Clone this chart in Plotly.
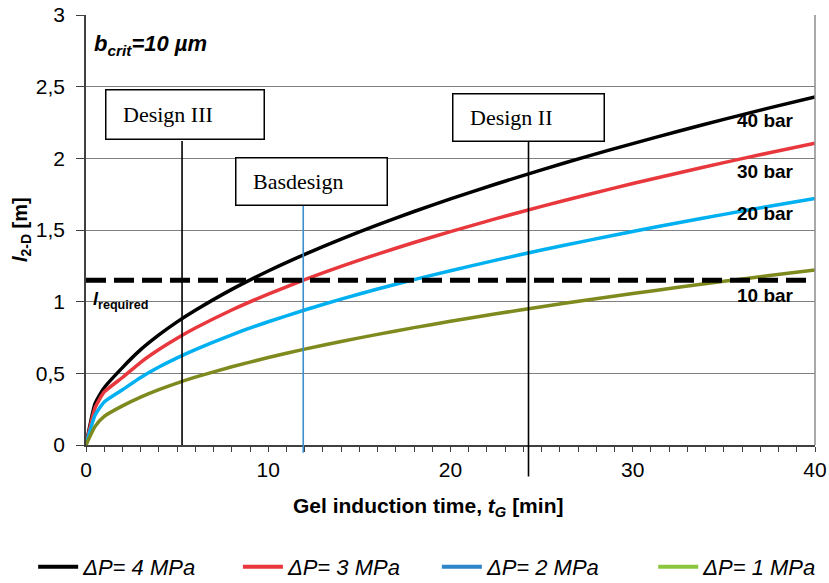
import plotly.graph_objects as go

# Gel induction time [min]
t_min = [0, 0.5, 1, 2, 3, 4, 5, 6, 8, 10, 12, 14, 16, 18, 20, 22.5, 25, 27.5, 30, 32.5, 35, 37.5, 40]

# Penetration length l_2-D [m] for each pressure difference
l_4mpa = [0, 0.29, 0.40, 0.54, 0.665, 0.768, 0.859, 0.940, 1.086, 1.214, 1.330, 1.437, 1.536, 1.629,
          1.717, 1.821, 1.920, 2.014, 2.103, 2.189, 2.272, 2.352, 2.429]
l_3mpa = [0, 0.26, 0.37, 0.471, 0.577, 0.666, 0.745, 0.816, 0.942, 1.053, 1.154, 1.246, 1.332, 1.413,
          1.489, 1.579, 1.665, 1.746, 1.824, 1.898, 1.970, 2.039, 2.106]
l_2mpa = [0, 0.21, 0.30, 0.385, 0.471, 0.544, 0.608, 0.666, 0.769, 0.860, 0.942, 1.018, 1.088, 1.154,
          1.216, 1.290, 1.360, 1.426, 1.490, 1.551, 1.609, 1.666, 1.720]
l_1mpa = [0, 0.13, 0.20, 0.273, 0.334, 0.386, 0.432, 0.473, 0.546, 0.610, 0.669, 0.722, 0.772, 0.819,
          0.863, 0.915, 0.965, 1.012, 1.057, 1.100, 1.142, 1.182, 1.221]

series_names = ["ΔP= 4 MPa", "ΔP= 3 MPa", "ΔP= 2 MPa", "ΔP= 1 MPa"]
series_values = [l_4mpa, l_3mpa, l_2mpa, l_1mpa]
line_colors = ["#000000", "#e8383d", "#00b0f0", "#7f8a1e"]
legend_colors = ["#000000", "#e8383d", "#2e86c8", "#8cc63f"]
bar_labels = ["40 bar", "30 bar", "20 bar", "10 bar"]
bar_label_y = [2.266, 1.91, 1.617, 1.045]

l_required = 1.15

design_names = ["Design III", "Basdesign", "Design II"]
design_t = [5.27, 11.92, 24.28]

y_ticks = [0, 0.5, 1, 1.5, 2, 2.5, 3]
y_ticktext = ["0", "0,5", "1", "1,5", "2", "2,5", "3"]
x_ticks = [0, 10, 20, 30, 40]

fig = go.Figure()

for vals, lc in zip(series_values, line_colors):
    fig.add_trace(go.Scatter(x=t_min, y=vals, mode="lines",
                             line=dict(color=lc, width=3.5, shape="spline", smoothing=0.5),
                             showlegend=False, hoverinfo="skip"))

# required length
fig.add_trace(go.Scatter(x=[0, 39.8], y=[l_required, l_required], mode="lines",
                         line=dict(color="#000000", width=5, dash="20px,8px"),
                         showlegend=False, hoverinfo="skip"))

# legend entries, one legend box per entry along the bottom
legend_ids = ["legend", "legend2", "legend3", "legend4"]
legend_x = [0.040, 0.287, 0.527, 0.788]
for name, lc, lid in zip(series_names, legend_colors, legend_ids):
    fig.add_trace(go.Scatter(x=[None], y=[None], mode="lines", name=name, legend=lid,
                             line=dict(color=lc, width=4)))

shapes = []
# design markers: vertical lines up to their callout boxes
line_specs = [dict(color="#000000", y0=0.0, y1=0.707),
              dict(color="#3a8fd0", y0=-0.018, y1=0.557),
              dict(color="#000000", y0=-0.073, y1=0.705)]
for xv, spec in zip(design_t, line_specs):
    shapes.append(dict(type="line", xref="x", yref="paper", x0=xv, x1=xv,
                       y0=spec["y0"], y1=spec["y1"],
                       line=dict(color=spec["color"], width=1.6), layer="above"))
# right frame edge
shapes.append(dict(type="line", xref="paper", yref="paper", x0=1, x1=1, y0=0, y1=1,
                   line=dict(color="#8c8c8c", width=1.5)))

annotations = []
box_specs = [dict(x=5.43, y=2.304, w=160, h=51),
             dict(x=12.37, y=1.84, w=153, h=49),
             dict(x=24.28, y=2.286, w=153, h=49)]
for name, b in zip(design_names, box_specs):
    annotations.append(dict(x=b["x"], y=b["y"], xref="x", yref="y", showarrow=False,
                            text="&nbsp;&nbsp;&nbsp;" + name, align="left",
                            width=b["w"] - 3, height=b["h"] - 3, borderpad=0,
                            bgcolor="#ffffff", bordercolor="#000000", borderwidth=1.5,
                            font=dict(family="Liberation Serif", size=22, color="#000000")))

for txt, yv in zip(bar_labels, bar_label_y):
    annotations.append(dict(x=37.3, y=yv, xref="x", yref="y", showarrow=False,
                            text="<b>" + txt + "</b>",
                            font=dict(family="Liberation Sans", size=19, color="#000000")))

annotations.append(dict(x=0.25, y=1.01, xref="x", yref="y", xanchor="left", showarrow=False,
                        text="<b><i>l</i><sub>required</sub></b>",
                        font=dict(family="Liberation Sans", size=18, color="#000000")))

annotations.append(dict(x=0.008, y=0.93, xref="paper", yref="paper", xanchor="left",
                        yanchor="middle", showarrow=False,
                        text="<b><i>b<sub>crit</sub>=10 µm</i></b>",
                        font=dict(family="Liberation Sans", size=22, color="#000000")))

annotations.append(dict(x=0.469, y=-0.145, xref="paper", yref="paper", xanchor="center",
                        yanchor="middle", showarrow=False,
                        text="<b>Gel induction time, <i>t<sub>G</sub></i> [min]</b>",
                        font=dict(family="Liberation Sans", size=21, color="#000000")))

annotations.append(dict(x=-0.089, y=0.5, xref="paper", yref="paper", xanchor="center",
                        yanchor="middle", showarrow=False,
                        textangle=-90, text="<b><i>l</i><sub>2-D</sub> [m]</b>",
                        font=dict(family="Liberation Sans", size=20, color="#000000")))

legend_common = dict(orientation="h", xref="container", yref="container", xanchor="left",
                     y=0.0274, yanchor="middle", itemwidth=40, bgcolor="rgba(0,0,0,0)",
                     font=dict(family="Liberation Sans", size=22, style="italic"))

fig.update_layout(
    width=829, height=583,
    margin=dict(l=86, r=14, t=15, b=138, autoexpand=False),
    paper_bgcolor="#ffffff", plot_bgcolor="#ffffff",
    font=dict(family="Liberation Sans", size=20, color="#000000"),
    shapes=shapes, annotations=annotations,
    legend=dict(legend_common, x=legend_x[0]),
    legend2=dict(legend_common, x=legend_x[1]),
    legend3=dict(legend_common, x=legend_x[2]),
    legend4=dict(legend_common, x=legend_x[3]),
    xaxis=dict(range=[0, 40], tickvals=x_ticks, ticks="outside", ticklen=5,
               tickcolor="#404040", showline=True, linecolor="#404040", linewidth=1.5,
               showgrid=False, zeroline=False, automargin=False,
               minor=dict(dtick=1, ticks="outside", ticklen=5, tickcolor="#404040", showgrid=False),
               tickfont=dict(size=21)),
    yaxis=dict(range=[0, 3], tickvals=y_ticks, ticktext=y_ticktext, ticks="outside", ticklen=8,
               tickcolor="#404040", showline=True, linecolor="#404040", linewidth=1.5,
               showgrid=True, gridcolor="#808080", gridwidth=1, zeroline=False, automargin=False,
               ticklabelstandoff=7, tickfont=dict(size=21)),
)

fig.write_html("out.html")
